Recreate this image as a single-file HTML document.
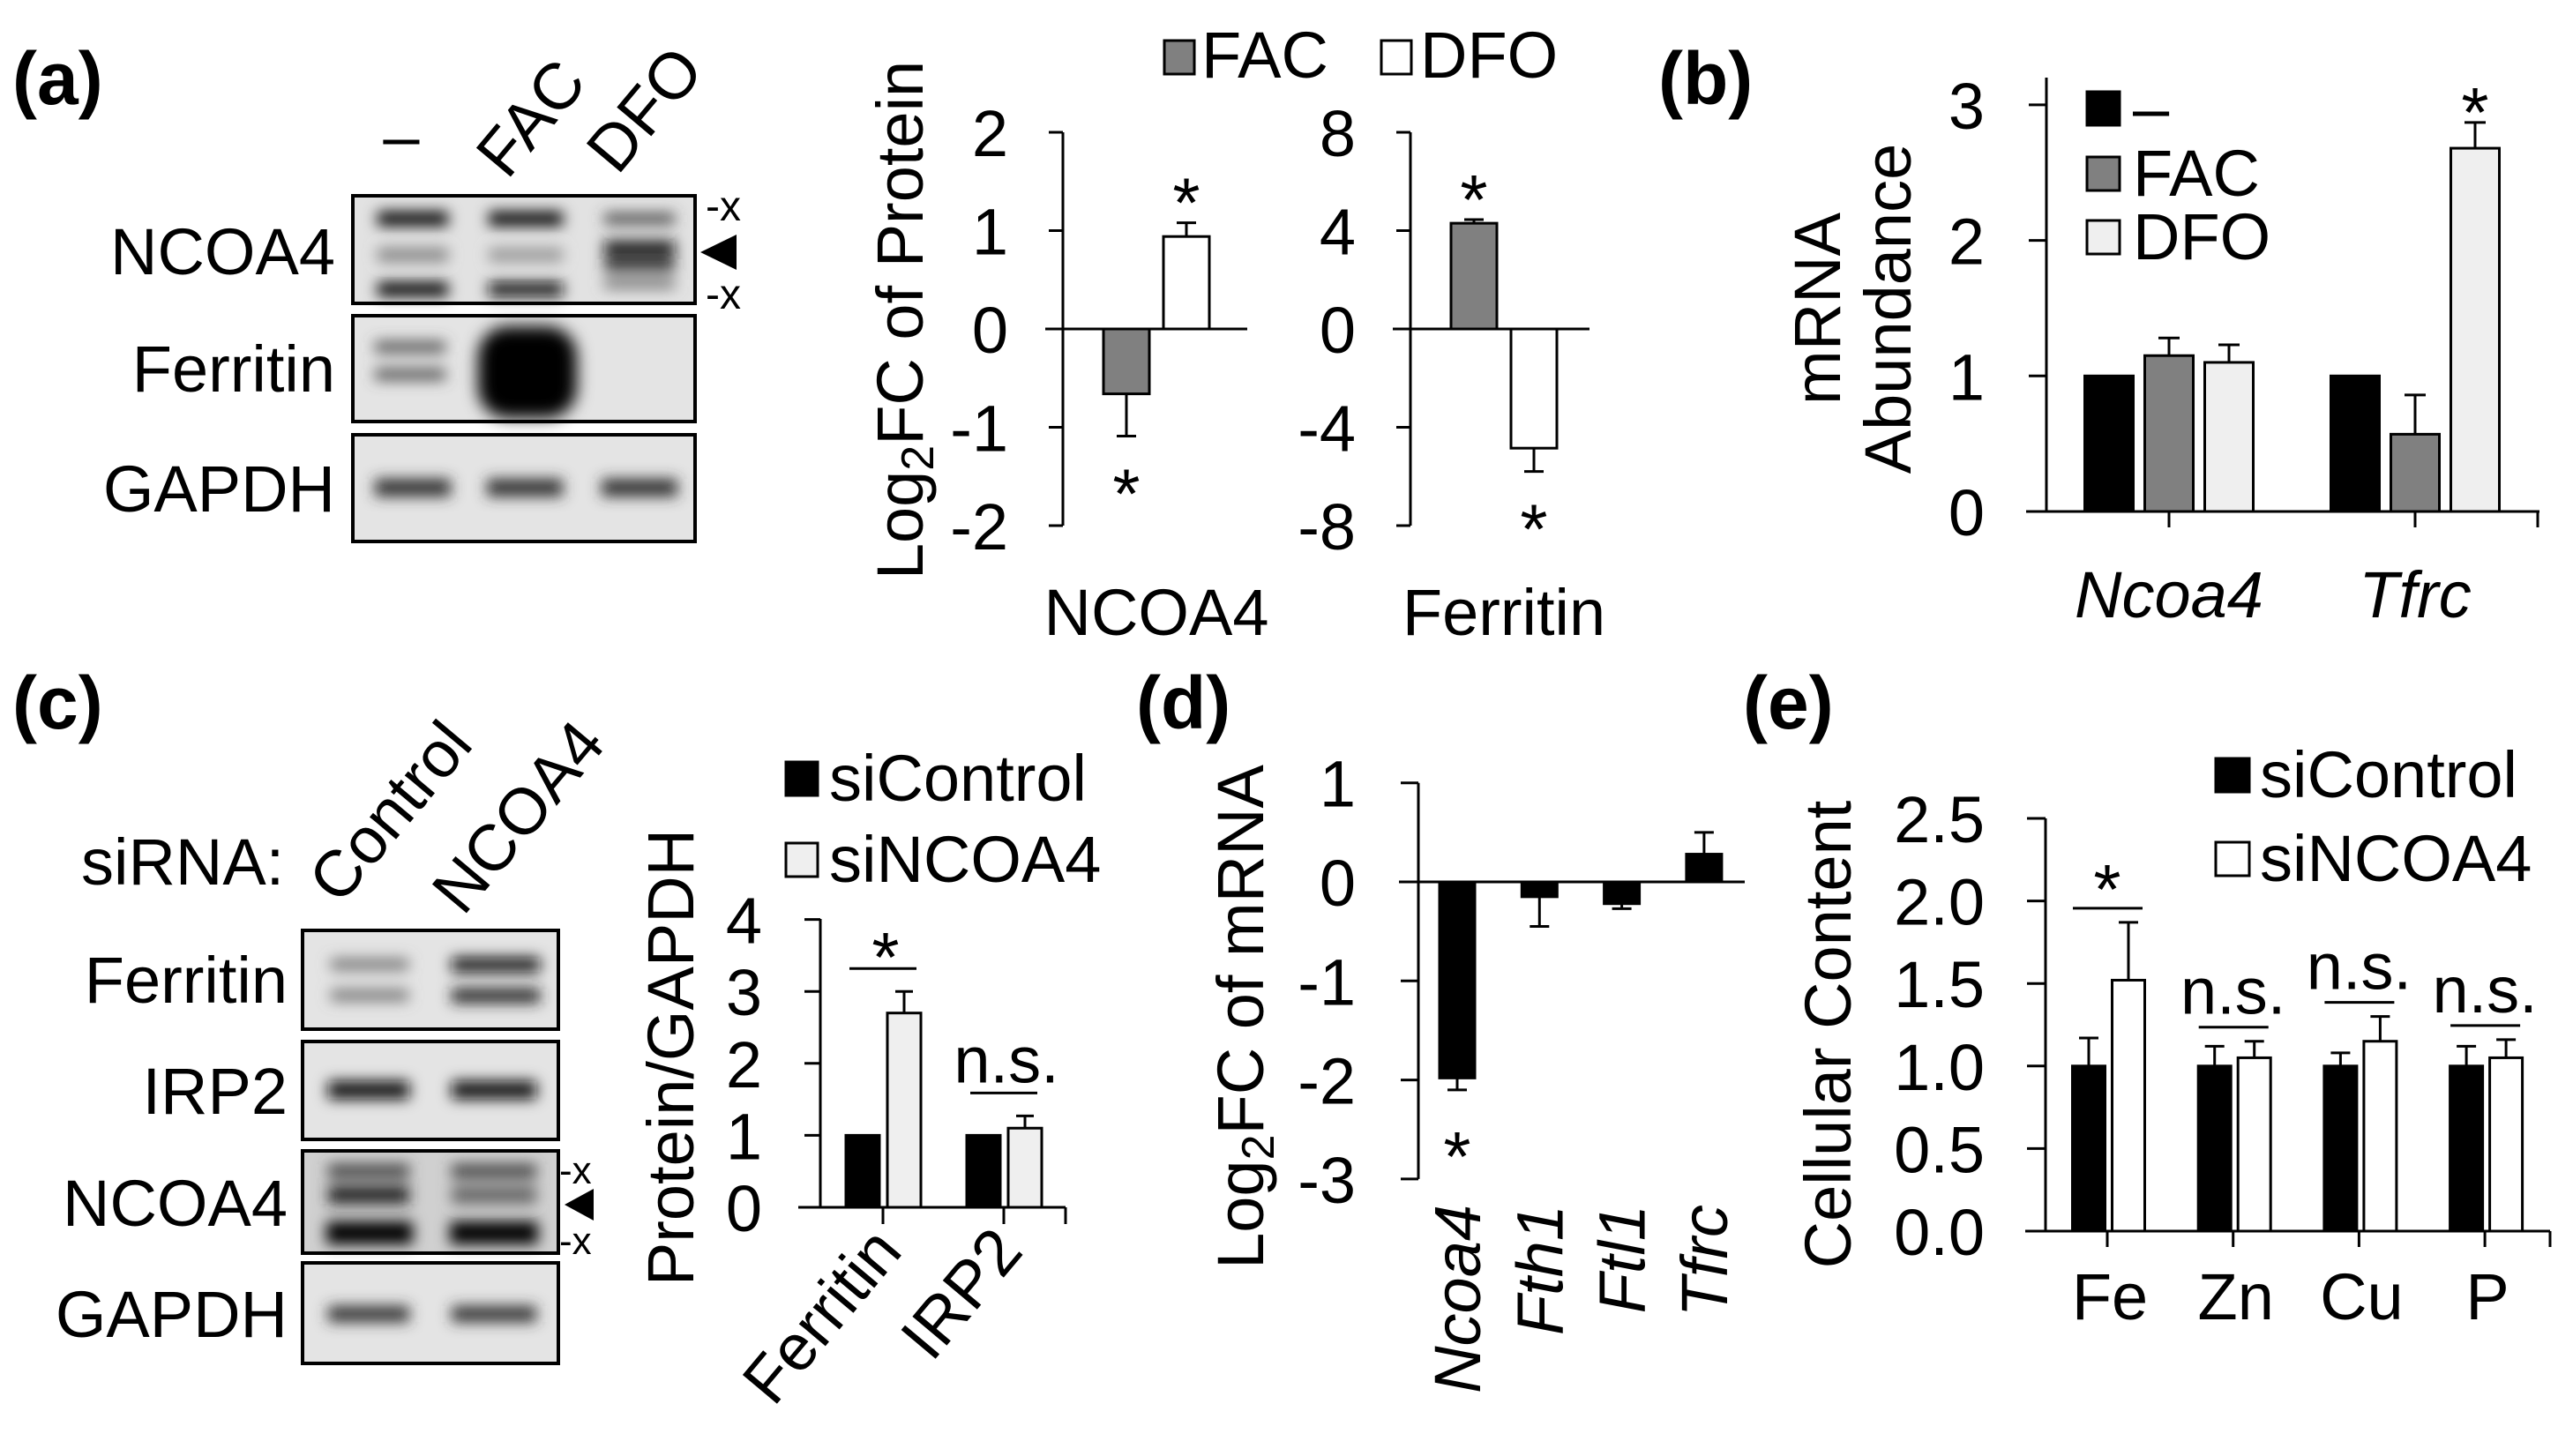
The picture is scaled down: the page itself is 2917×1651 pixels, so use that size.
<!DOCTYPE html>
<html><head><meta charset="utf-8"><style>
html,body{margin:0;padding:0;background:#fff;}
svg{display:block;font-family:"Liberation Sans",Arial,sans-serif;}
</style></head><body>
<svg id="fig" width="2917" height="1651" viewBox="0 0 2917 1651" xmlns="http://www.w3.org/2000/svg">
<defs>
<filter id="blur" x="-30%" y="-150%" width="160%" height="400%"><feGaussianBlur stdDeviation="8"/></filter>
<filter id="blur2" x="-30%" y="-30%" width="160%" height="160%"><feGaussianBlur stdDeviation="9"/></filter>
</defs>
<text x="14" y="118" font-size="84" font-weight="bold">(a)</text>
<text x="1880" y="118" font-size="84" font-weight="bold">(b)</text>
<text x="14" y="826" font-size="84" font-weight="bold">(c)</text>
<text x="1288" y="826" font-size="84" font-weight="bold">(d)</text>
<text x="1976" y="826" font-size="84" font-weight="bold">(e)</text>

<g>
<text x="455" y="180" font-size="74" text-anchor="middle">–</text>
<text transform="translate(575,205) rotate(-50)" font-size="74">FAC</text>
<text transform="translate(700,200) rotate(-50)" font-size="74">DFO</text>
<text x="380" y="311" font-size="74" text-anchor="end">NCOA4</text>
<text x="380" y="444" font-size="74" text-anchor="end">Ferritin</text>
<text x="380" y="580" font-size="74" text-anchor="end">GAPDH</text>
<rect x="400" y="222" width="388" height="122" fill="#e2e2e2" stroke="#000" stroke-width="4"/>
<g filter="url(#blur)">
<rect x="428" y="240" width="80" height="16" fill="#000"/><rect x="554" y="240" width="84" height="16" fill="#000"/><rect x="685" y="242" width="80" height="12" fill="#444"/>
<rect x="428" y="281" width="80" height="16" fill="#888"/><rect x="554" y="281" width="84" height="16" fill="#999"/><rect x="685" y="273" width="80" height="16" fill="#111"/><rect x="685" y="293" width="80" height="14" fill="#222"/>
<rect x="428" y="320" width="80" height="16" fill="#000"/><rect x="554" y="320" width="84" height="16" fill="#111"/><rect x="685" y="315" width="80" height="12" fill="#777"/>
</g>
<rect x="400" y="358" width="388" height="120" fill="#e4e4e4" stroke="#000" stroke-width="4"/>
<g filter="url(#blur)">
<rect x="425" y="387" width="80" height="13" fill="#555"/><rect x="425" y="418" width="80" height="13" fill="#555"/>
</g>
<g filter="url(#blur2)"><rect x="542" y="370" width="112" height="104" rx="34" fill="#000"/></g>
<rect x="400" y="493" width="388" height="121" fill="#e4e4e4" stroke="#000" stroke-width="4"/>
<g filter="url(#blur)">
<rect x="425" y="543" width="86" height="20" fill="#333"/><rect x="552" y="543" width="86" height="20" fill="#333"/><rect x="682" y="543" width="86" height="20" fill="#333"/>
</g>
<text x="800" y="250" font-size="48">-x</text>
<text x="800" y="350" font-size="48">-x</text>
<polygon points="794,286 835,266 835,306" fill="#000"/>
</g>

<g>
<text x="92" y="1003" font-size="74">siRNA:</text>
<text transform="translate(385,1028) rotate(-50)" font-size="74">Control</text>
<text transform="translate(525,1040) rotate(-50)" font-size="74">NCOA4</text>
<text x="326" y="1137" font-size="74" text-anchor="end">Ferritin</text>
<text x="326" y="1263" font-size="74" text-anchor="end">IRP2</text>
<text x="326" y="1390" font-size="74" text-anchor="end">NCOA4</text>
<text x="326" y="1516" font-size="74" text-anchor="end">GAPDH</text>
<rect x="343" y="1055" width="290" height="112" fill="#e4e4e4" stroke="#000" stroke-width="4"/>
<rect x="343" y="1181" width="290" height="111" fill="#e4e4e4" stroke="#000" stroke-width="4"/>
<rect x="343" y="1305" width="290" height="116" fill="#d0d0d0" stroke="#000" stroke-width="4"/>
<rect x="343" y="1432" width="290" height="114" fill="#e4e4e4" stroke="#000" stroke-width="4"/>
<g filter="url(#blur)">
<rect x="375" y="1087" width="88" height="13" fill="#777"/><rect x="512" y="1086" width="100" height="16" fill="#111"/>
<rect x="375" y="1122" width="88" height="13" fill="#777"/><rect x="512" y="1121" width="100" height="16" fill="#222"/>
<rect x="372" y="1226" width="92" height="20" fill="#111"/><rect x="512" y="1226" width="96" height="20" fill="#111"/>
<rect x="372" y="1320" width="92" height="16" fill="#444"/><rect x="512" y="1320" width="96" height="16" fill="#444"/>
<rect x="372" y="1345" width="92" height="20" fill="#222"/><rect x="512" y="1345" width="96" height="20" fill="#666"/>
<rect x="370" y="1385" width="98" height="26" fill="#000"/><rect x="510" y="1385" width="100" height="26" fill="#000"/>
<rect x="372" y="1481" width="92" height="18" fill="#333"/><rect x="512" y="1481" width="96" height="18" fill="#333"/>
</g>
<text x="634" y="1342" font-size="44">-x</text>
<text x="634" y="1422" font-size="44">-x</text>
<polygon points="640,1366 673,1348 673,1384" fill="#000"/>
</g>
<g id="charts"></g>
</svg>
<script>
// ---- data ----
const aCats = ["NCOA4", "Ferritin"];
const aFacVals = [-0.66, 4.3];
const aFacErr = [0.43, 0.15];
const aDfoVals = [0.94, -4.85];
const aDfoErr = [0.14, 0.95];
const aTicks1 = ["2", "1", "0", "-1", "-2"];
const aTicks2 = ["8", "4", "0", "-4", "-8"];

const bCats = ["Ncoa4", "Tfrc"];
const bCtrlVals = [1, 1];
const bFacVals = [1.15, 0.57];
const bFacErr = [0.13, 0.29];
const bDfoVals = [1.1, 2.68];
const bDfoErr = [0.13, 0.19];
const bTicks = ["0", "1", "2", "3"];

const cCats = ["Ferritin", "IRP2"];
const cCtrlVals = [1, 1];
const cSiVals = [2.7, 1.1];
const cSiErr = [0.3, 0.17];
const cTicks = ["0", "1", "2", "3", "4"];

const dCats = ["Ncoa4", "Fth1", "Ftl1", "Tfrc"];
const dVals = [-1.98, -0.15, -0.22, 0.28];
const dErr = [0.12, 0.3, 0.05, 0.22];
const dTicks = ["1", "0", "-1", "-2", "-3"];

const eCats = ["Fe", "Zn", "Cu", "P"];
const eCtrlVals = [1, 1, 1, 1];
const eCtrlErr = [0.17, 0.12, 0.08, 0.12];
const eSiVals = [1.52, 1.05, 1.15, 1.05];
const eSiErr = [0.35, 0.1, 0.15, 0.11];
const eTicks = ["0.0", "0.5", "1.0", "1.5", "2.0", "2.5"];
const eSig = ["*", "n.s.", "n.s.", "n.s."];

const FS = 74;
const SFS = 80;

// ---- helpers ----
const NS = "http://www.w3.org/2000/svg";
const root = document.getElementById("charts");
function mk(tag, attrs) {
  const e = document.createElementNS(NS, tag);
  for (const k in attrs) e.setAttribute(k, attrs[k]);
  root.appendChild(e);
  return e;
}
function line(x1, y1, x2, y2, w) {
  return mk("line", {x1: x1, y1: y1, x2: x2, y2: y2, stroke: "#000", "stroke-width": w || 3});
}
function txt(x, y, s, size, anchor, extra) {
  const t = mk("text", Object.assign({x: x, y: y, "font-size": size, "text-anchor": anchor || "start"}, extra || {}));
  t.textContent = s;
  return t;
}
function bar(cx, w, yBase, yVal, fill) {
  return mk("rect", {x: cx - w / 2, y: Math.min(yBase, yVal), width: w, height: Math.abs(yVal - yBase), fill: fill, stroke: "#000", "stroke-width": 3});
}
function err(cx, yFrom, yTo, cap) {
  const g1 = line(cx, yFrom, cx, yTo, 3);
  const g2 = line(cx - cap / 2, yTo, cx + cap / 2, yTo, 3);
  
  
  
  
}

// ---- panel a charts ----
const yA1 = v => 373 - v * 111.5;
const yA2 = v => 373 - v * 27.875;
const aAxes = [{x: 1205, end: 1414, y: yA1, ticks: aTicks1, tickVals: [2, 1, 0, -1, -2]},
               {x: 1599, end: 1802, y: yA2, ticks: aTicks2, tickVals: [8, 4, 0, -4, -8]}];
aAxes.forEach((ax, i) => {
  const yl = line(ax.x, ax.y(ax.tickVals[0]), ax.x, ax.y(ax.tickVals[4]), 3);
  
  
  ax.tickVals.forEach((tv, j) => {
    line(ax.x - 16, ax.y(tv), ax.x, ax.y(tv), 3);
    const t = txt(ax.x - 62, ax.y(tv) + 27, ax.ticks[j], FS, "end");
    
    
  });
  const zl = line(ax.x - 20, ax.y(0), ax.end, ax.y(0), 3);
  
  
  const cx = ax.x + 106;
  const f = bar(cx - 34, 52, ax.y(0), ax.y(aFacVals[i]), "#808080");
  
  
  const d = bar(cx + 34, 52, ax.y(0), ax.y(aDfoVals[i]), "#ffffff");
  
  
  const fEnd = aFacVals[i] + Math.sign(aFacVals[i]) * aFacErr[i];
  const dEnd = aDfoVals[i] + Math.sign(aDfoVals[i]) * aDfoErr[i];
  err(cx - 34, ax.y(aFacVals[i]), ax.y(fEnd), 22);
  err(cx + 34, ax.y(aDfoVals[i]), ax.y(dEnd), 22);
  const sf = txt(cx - 34, ax.y(fEnd) + (aFacVals[i] < 0 ? 93 : 5), "*", SFS, "middle");
  
  
  const sd = txt(cx + 34, ax.y(dEnd) + (aDfoVals[i] < 0 ? 93 : 5), "*", SFS, "middle");
  
  
  const cl = txt(cx, 720, aCats[i], FS, "middle");
  
  
});
const aYT = txt(0, 0, "", FS, "middle", {transform: "translate(1046,363) rotate(-90)"});
aYT.innerHTML = 'Log<tspan font-size="52" dy="12">2</tspan><tspan dy="-12">FC of Protein</tspan>';


const aLg1 = mk("rect", {x: 1320, y: 46, width: 34, height: 38, fill: "#808080", stroke: "#000", "stroke-width": 3});


const aLt1 = txt(1362, 88, "FAC", FS);


const aLg2 = mk("rect", {x: 1566, y: 46, width: 34, height: 38, fill: "#fff", stroke: "#000", "stroke-width": 3});


const aLt2 = txt(1610, 88, "DFO", FS);



// ---- panel b ----
const yB = v => 580 - v * 153.7;
const xB = i => 2459 + i * 279;
const bAx = line(2320, 88, 2320, 580, 3);


const bX = line(2297, 580, 2879, 580, 3);


line(2877, 580, 2877, 598, 3);
bTicks.forEach((t, j) => {
  line(2300, yB(j), 2320, yB(j), 3);
  const tl = txt(2250, yB(j) + 27, t, FS, "end");
  
  
});
bCats.forEach((c, i) => {
  line(xB(i), 580, xB(i), 598, 3);
  const b1 = bar(xB(i) - 68, 55, yB(0), yB(bCtrlVals[i]), "#000");
  
  
  const b2 = bar(xB(i), 55, yB(0), yB(bFacVals[i]), "#808080");
  
  
  const b3 = bar(xB(i) + 68, 55, yB(0), yB(bDfoVals[i]), "#efefef");
  
  
  err(xB(i), yB(bFacVals[i]), yB(bFacVals[i] + bFacErr[i]), 24);
  err(xB(i) + 68, yB(bDfoVals[i]), yB(bDfoVals[i] + bDfoErr[i]), 24);
  const cl = txt(xB(i), 700, c, FS, "middle", {"font-style": "italic"});
  
  
});
const bStar = txt(xB(1) + 68, yB(bDfoVals[1] + bDfoErr[1]) + 16, "*", SFS, "middle");


const bY1 = txt(0, 0, "mRNA", FS, "middle", {transform: "translate(2086,350) rotate(-90)"});


const bY2 = txt(0, 0, "Abundance", FS, "middle", {transform: "translate(2166,350) rotate(-90)"});


const bLegF = ["#000", "#808080", "#efefef"];
const bLegT = ["–", "FAC", "DFO"];
const bLegY = [104, 178, 250];
bLegT.forEach((s, i) => {
  const r = mk("rect", {x: 2366, y: bLegY[i], width: 37, height: 38, fill: bLegF[i], stroke: "#000", "stroke-width": 3});
  
  
  const t = txt(2418, bLegY[i] + 44, s, FS);
  
  
});

// ---- panel c chart ----
const yC = v => 1369 - v * 81.6;
const xC = i => 1001 + i * 137;
const cAx = line(930, 1042, 930, 1369, 3);


const cX = line(905, 1369, 1208, 1369, 3);


line(1208, 1369, 1208, 1388, 3);
cTicks.forEach((t, j) => {
  line(912, yC(j), 930, yC(j), 3);
  const tl = txt(864, yC(j) + 27, t, FS, "end");
  
  
});
cCats.forEach((c, i) => {
  line(xC(i), 1369, xC(i), 1388, 3);
  const b1 = bar(xC(i) - 23, 38, yC(0), yC(cCtrlVals[i]), "#000");
  
  
  const b2 = bar(xC(i) + 24, 38, yC(0), yC(cSiVals[i]), "#efefef");
  
  
  err(xC(i) + 24, yC(cSiVals[i]), yC(cSiVals[i] + cSiErr[i]), 20);
  const sy = yC(cSiVals[i] + cSiErr[i]) - 26;
  const sl = line(xC(i) - 38, sy, xC(i) + 38, sy, 3);
  
  
  const st = txt(xC(i) + 3, sy + (i === 0 ? 15 : -12), i === 0 ? "*" : "n.s.", i === 0 ? SFS : FS, "middle");
  
  
  const cl = txt(0, 0, c, FS, "end", {transform: "translate(" + (xC(i) + 24) + ",1420) rotate(-50)"});
  
  
});
const cYT = txt(0, 0, "Protein/GAPDH", FS, "middle", {transform: "translate(786,1199) rotate(-90)"});


const cLegF = ["#000", "#efefef"];
const cLegT = ["siControl", "siNCOA4"];
const cLegY = [864, 956];
cLegT.forEach((s, i) => {
  const r = mk("rect", {x: 891, y: cLegY[i], width: 36, height: 38, fill: cLegF[i], stroke: "#000", "stroke-width": 3});
  
  
  const t = txt(940, cLegY[i] + 44, s, FS);
  
  
});

// ---- panel d ----
const yD = v => 1000 - v * 112.3;
const xD = i => 1652 + i * 93.3;
const dAx = line(1608, yD(1), 1608, yD(-3), 3);


const dZ = line(1586, yD(0), 1978, yD(0), 3);


dTicks.forEach((t, j) => {
  const v = 1 - j;
  line(1588, yD(v), 1608, yD(v), 3);
  const tl = txt(1537, yD(v) + 27, t, FS, "end");
  
  
});
dCats.forEach((c, i) => {
  const b = bar(xD(i), 40, yD(0), yD(dVals[i]), "#000");
  
  
  const e = dVals[i] + Math.sign(dVals[i]) * dErr[i];
  err(xD(i), yD(dVals[i]), yD(e), 22);
  const cl = txt(0, 0, c, FS, "end", {transform: "translate(" + (xD(i) + 26) + ",1366) rotate(-90)", "font-style": "italic"});
  
  
});
const dStar = txt(xD(0), yD(dVals[0] - dErr[0]) + 103, "*", SFS, "middle");


const dYT = txt(0, 0, "", FS, "middle", {transform: "translate(1432,1153) rotate(-90)"});
dYT.innerHTML = 'Log<tspan font-size="52" dy="12">2</tspan><tspan dy="-12">FC of mRNA</tspan>';



// ---- panel e ----
const yE = v => 1396 - v * 187.2;
const xE = i => 2389 + i * 142.7;
const eAx = line(2319, yE(2.5), 2319, yE(0), 3);


const eX = line(2296, yE(0), 2891, yE(0), 3);


line(2891, yE(0), 2891, yE(0) + 18, 3);
eTicks.forEach((t, j) => {
  const v = j * 0.5;
  line(2298, yE(v), 2319, yE(v), 3);
  const tl = txt(2250, yE(v) + 27, t, FS, "end");
  
  
});
eCats.forEach((c, i) => {
  line(xE(i), yE(0), xE(i), yE(0) + 18, 3);
  const b1 = bar(xE(i) - 21, 37, yE(0), yE(eCtrlVals[i]), "#000");
  
  
  const b2 = bar(xE(i) + 24, 37, yE(0), yE(eSiVals[i]), "#fff");
  
  
  err(xE(i) - 21, yE(eCtrlVals[i]), yE(eCtrlVals[i] + eCtrlErr[i]), 22);
  err(xE(i) + 24, yE(eSiVals[i]), yE(eSiVals[i] + eSiErr[i]), 22);
  const top = Math.max(eCtrlVals[i] + eCtrlErr[i], eSiVals[i] + eSiErr[i]);
  const sy = yE(top) - 16;
  const sl = line(xE(i) - 39, sy, xE(i) + 40, sy, 3);
  
  
  const st = txt(xE(i), sy + (eSig[i] === "*" ? 6 : -15), eSig[i], eSig[i] === "*" ? SFS : FS, "middle");
  
  
  const cl = txt(xE(i) + 3, 1496, c, FS, "middle");
  
  
});
const eYT = txt(0, 0, "Cellular Content", FS, "middle", {transform: "translate(2098,1173) rotate(-90)"});


const eLegF = ["#000", "#fff"];
const eLegT = ["siControl", "siNCOA4"];
const eLegY = [860, 955];
eLegT.forEach((s, i) => {
  const r = mk("rect", {x: 2512, y: eLegY[i], width: 38, height: 38, fill: eLegF[i], stroke: "#000", "stroke-width": 3});
  
  
  const t = txt(2562, eLegY[i] + 44, s, FS);
  
  
});
</script>
</body></html>
